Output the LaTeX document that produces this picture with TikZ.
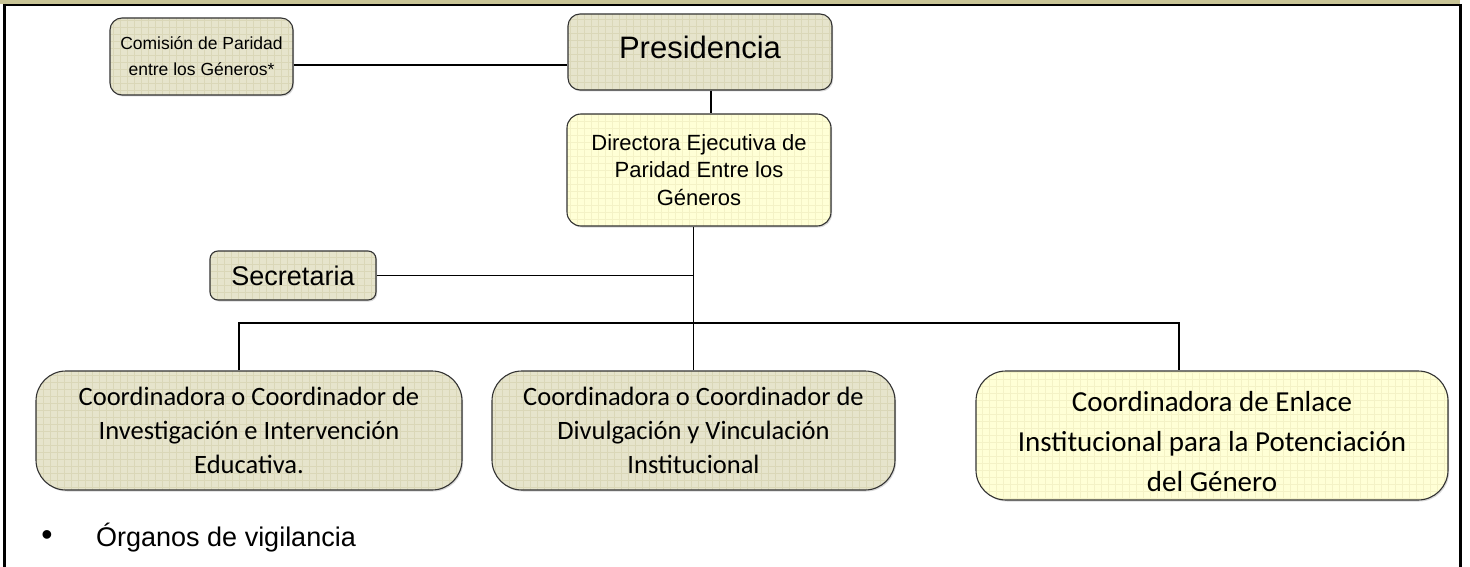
\documentclass[tikz,border=0pt]{standalone}
\usepackage{fontspec}
\setmainfont{Liberation Sans}
\newfontfamily\calib{Carlito}
\usetikzlibrary{shadows}
\definecolor{olive}{HTML}{C8C496}
\definecolor{olfill}{HTML}{E6E4CC}
\definecolor{olgrid}{HTML}{DAD7B8}
\definecolor{yefill}{HTML}{FFFFD6}
\definecolor{yegrid}{HTML}{F4F2C6}
\tikzset{
  box/.style={draw=black!80, line width=1.1pt, rounded corners=#1,
    drop shadow={shadow xshift=1.2pt, shadow yshift=-1.5pt, fill=black!30},
    inner sep=0pt, align=center},
  olbox/.style={box=#1, fill=olfill, path picture={\draw[olgrid, line width=0.7pt]
    (path picture bounding box.south west) grid[step=7pt] (path picture bounding box.north east);}},
  yebox/.style={box=#1, fill=yefill, path picture={\draw[yegrid, line width=0.7pt]
    (path picture bounding box.south west) grid[step=7pt] (path picture bounding box.north east);}},
  conn/.style={draw=black, line width=1.8pt},
}
\begin{document}
\begin{tikzpicture}[x=1pt,y=-1pt]
\useasboundingbox (0,0) rectangle (1470,567);
\fill[white] (0,0) rectangle (1470,567);
% frame
\fill[olive] (0,0) rectangle (1460,4.3);
\draw[line width=2pt] (3,5) -- (1461,5);
\draw[line width=3pt] (4.5,4) -- (4.5,567);
\draw[line width=3pt] (1460.5,4) -- (1460.5,567);
% nodes
\node[olbox=12pt, minimum width=183pt, minimum height=77pt,
  font={\fontsize{17.5}{26}\selectfont}] (com) at (201.5,56.5)
  {Comisión de Paridad\\ entre los Géneros*};
\node[olbox=12pt, minimum width=264pt, minimum height=76pt,
  font={\fontsize{31}{36}\selectfont}] (pres) at (700,52)
  {\raisebox{10pt}{Presidencia}};
\node[yebox=14pt, minimum width=264pt, minimum height=112pt,
  font={\fontsize{22}{27.5}\selectfont}] (dir) at (699,170)
  {Directora Ejecutiva de\\ Paridad Entre los\\ Géneros};
\node[olbox=8pt, minimum width=166pt, minimum height=49pt,
  font={\fontsize{27}{30}\selectfont}] (sec) at (293,275.5)
  {Secretaria};
\node[olbox=30pt, minimum width=426pt, minimum height=119pt,
  font={\calib\fontsize{26.5}{34}\selectfont}] (b1) at (249,430.5)
  {Coordinadora o Coordinador de\\ Investigación e Intervención\\ Educativa.};
\node[olbox=30pt, minimum width=403pt, minimum height=119pt,
  font={\calib\fontsize{26.5}{34}\selectfont}] (b2) at (693.5,430.5)
  {Coordinadora o Coordinador de\\ Divulgación y Vinculación\\ Institucional};
\node[yebox=30pt, minimum width=472pt, minimum height=129pt,
  font={\calib\fontsize{29}{40}\selectfont}] (b3) at (1212,435.5)
  {\raisebox{-14pt}[0pt][0pt]{\begin{tabular}{@{}c@{}}Coordinadora de Enlace\\ Institucional para la Potenciación\\ del Género\end{tabular}}};
\node[inner sep=0pt, font={\fontsize{32}{32}\selectfont}] (bul) at (47,538) {•};
\node[anchor=west, inner sep=0pt, font={\fontsize{27}{30}\selectfont}] (org) at (96,538) {Órganos de vigilancia};
% connectors
\coordinate (ycom) at (0,65);
\coordinate (xpd) at (711,0);
\coordinate (busL) at (239,323);
\coordinate (busR) at (1179,323);
\draw[conn] (com.east |- ycom) -- (pres.west |- ycom);
\draw[conn] (pres.south -| xpd) -- (dir.north -| xpd);
\draw[conn] (dir.south -| b2.north) -- (b2.north);
\draw[conn] (sec.east) -- (sec.east -| b2.north);
\draw[conn] (b1.north -| busL) -- (busL) -- (busR) -- (b3.north -| busR);
\end{tikzpicture}
\end{document}
